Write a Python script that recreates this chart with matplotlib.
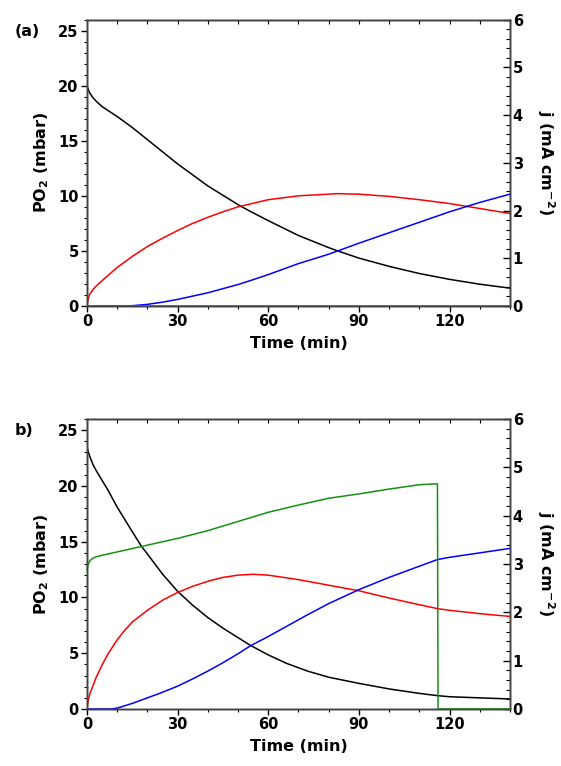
import matplotlib
matplotlib.use("Agg")
import matplotlib.pyplot as plt
from matplotlib.ticker import MultipleLocator, NullLocator

plt.rcParams['font.family'] = ['DejaVu Sans']
plt.rcParams['font.weight'] = 'bold'
plt.rcParams['mathtext.fontset'] = 'dejavusans'
plt.rcParams['mathtext.default'] = 'bf'

# ---- panel (a) : values (PO2 in mbar, j in mA cm-2) ----
t_black_a = [0, 0.5, 1, 2, 3, 5, 10, 15, 20, 30, 40, 50, 54, 60, 70, 80, 83, 90, 100, 110, 120, 130, 140]
po2_black_a = [20.0, 19.6, 19.3, 18.9, 18.6, 18.1, 17.2, 16.2, 15.1, 12.9, 10.9, 9.2, 8.6, 7.75,
               6.4, 5.3, 5.0, 4.35, 3.6, 2.95, 2.42, 1.98, 1.62]

t_red_a = [0, 0.3, 0.7, 1, 2, 3, 5, 10, 15, 20, 25, 30, 35, 40, 45, 50, 60, 70, 83, 90, 100, 110,
           120, 130, 140]
po2_red_a = [0.0, 0.5, 0.9, 1.1, 1.5, 1.8, 2.3, 3.5, 4.5, 5.4, 6.15, 6.85, 7.5, 8.05, 8.55, 9.0,
             9.65, 10.0, 10.2, 10.15, 9.95, 9.65, 9.3, 8.85, 8.4]

t_blue_a = [0, 13, 16, 20, 25, 30, 35, 40, 50, 54, 60, 70, 80, 83, 90, 100, 110, 120, 130, 140]
po2_blue_a = [0.0, 0.0, 0.05, 0.15, 0.35, 0.6, 0.9, 1.2, 1.95, 2.3, 2.85, 3.85, 4.7, 5.0, 5.7,
              6.65, 7.6, 8.55, 9.4, 10.15]

t_green_a = [0, 140]
j_green_a = [0.0, 0.0]

# ---- panel (b) ----
t_black_b = [0, 0.5, 1, 2, 3, 5, 7, 10, 15, 18, 20, 25, 30, 35, 40, 45, 50, 54, 60, 66, 73, 80, 90,
             100, 110, 116, 120, 130, 140]
po2_black_b = [23.5, 23.0, 22.6, 21.9, 21.4, 20.5, 19.6, 18.1, 15.9, 14.6, 13.9, 12.1, 10.55, 9.3,
               8.2, 7.25, 6.4, 5.72, 4.85, 4.1, 3.4, 2.85, 2.3, 1.8, 1.4, 1.2, 1.1, 1.0, 0.9]

t_red_b = [0, 0.3, 0.7, 1, 2, 3, 5, 7, 10, 12, 15, 20, 25, 30, 35, 40, 45, 50, 55, 60, 70, 80, 90,
           100, 110, 116, 120, 130, 140]
po2_red_b = [0.0, 0.6, 1.1, 1.4, 2.1, 2.8, 3.95, 4.95, 6.2, 6.9, 7.8, 8.85, 9.75, 10.45, 11.0, 11.45,
             11.8, 12.0, 12.08, 12.0, 11.6, 11.1, 10.6, 9.95, 9.35, 9.0, 8.85, 8.55, 8.3]

t_blue_b = [0, 8, 10, 12, 15, 20, 25, 30, 35, 40, 45, 50, 54, 60, 66, 73, 80, 90, 100, 110, 116,
            120, 130, 140]
po2_blue_b = [0.0, 0.0, 0.08, 0.25, 0.5, 1.0, 1.5, 2.05, 2.7, 3.4, 4.15, 4.95, 5.65, 6.5, 7.4, 8.45,
              9.45, 10.7, 11.8, 12.8, 13.4, 13.6, 14.0, 14.4]

t_green_b = [0, 0.3, 0.7, 1, 2, 3, 5, 10, 20, 30, 40, 50, 60, 66, 70, 80, 90, 100, 110, 116, 116.2, 140]
j_green_b = [2.88, 2.97, 3.03, 3.07, 3.12, 3.15, 3.18, 3.25, 3.39, 3.53, 3.69, 3.88, 4.07, 4.16,
             4.22, 4.36, 4.45, 4.55, 4.64, 4.66, 0.0, 0.0]

x_ticks = [0, 30, 60, 90, 120]
left_ticks = [0, 5, 10, 15, 20, 25]
right_ticks = [0, 1, 2, 3, 4, 5, 6]

BLACK, RED, BLUE, GREEN = 'black', '#ff0000', '#0000ff', '#159015'
FS_TICK = 10.5
FS_LAB = 11.5
SPINE = '#444444'


def draw_panel(ax, series, green, tag, ylab):
    axr = ax.twinx()
    for t, y, c in series:
        ax.plot(t, y, color=c, lw=1.1, zorder=3)
    axr.plot(green[0], green[1], color=GREEN, lw=1.1, zorder=3, clip_on=False)

    ax.set_xlim(0, 140)
    ax.set_ylim(0, 26)
    axr.set_ylim(0, 6)

    ax.set_xticks(x_ticks)
    ax.xaxis.set_minor_locator(MultipleLocator(10))
    ax.set_yticks(left_ticks)
    ax.yaxis.set_minor_locator(MultipleLocator(1))
    axr.set_yticks(right_ticks)
    axr.yaxis.set_minor_locator(MultipleLocator(0.2))

    ax.tick_params(axis='x', which='major', direction='out', length=4, width=1, top=False)
    ax.tick_params(axis='x', which='minor', direction='out', length=2.5, width=0.8, top=False)
    ax.tick_params(axis='y', which='major', direction='out', length=4, width=1, right=False)
    ax.tick_params(axis='y', which='minor', direction='out', length=2.5, width=0.8, right=False)
    axr.tick_params(axis='y', which='major', direction='in', length=5, width=1)
    axr.tick_params(axis='y', which='minor', direction='in', length=3, width=0.8)

    # inward ticks along the top edge, every 10 min
    axt = ax.twiny()
    axt.set_xlim(0, 140)
    axt.set_xticks(list(range(0, 141, 10)))
    axt.xaxis.set_minor_locator(NullLocator())
    axt.tick_params(axis='x', direction='in', labeltop=False, length=3, width=0.8)

    for a in (ax, axr, axt):
        a.tick_params(labelsize=FS_TICK, pad=2, colors='black')
        for s in a.spines.values():
            s.set_linewidth(1.0)
            s.set_edgecolor(SPINE)

    ax.set_xlabel('Time (min)', fontsize=FS_LAB, fontweight='bold', labelpad=5)
    ax.set_ylabel(ylab, fontsize=FS_LAB, fontweight='bold', labelpad=5)
    axr.set_ylabel('j (mA cm$^{-2}$)', fontsize=FS_LAB, fontweight='bold', rotation=270,
                   va='bottom', labelpad=9)
    ax.text(-0.172, 0.985, tag, transform=ax.transAxes, fontsize=FS_LAB, fontweight='bold',
            ha='left', va='top')
    return axr


fig = plt.figure(figsize=(5.61, 7.66), dpi=100)
ax_a = fig.add_axes([0.155, 0.6005, 0.754, 0.374])
ax_b = fig.add_axes([0.155, 0.0744, 0.754, 0.3786])

draw_panel(ax_a,
           [(t_black_a, po2_black_a, BLACK), (t_red_a, po2_red_a, RED), (t_blue_a, po2_blue_a, BLUE)],
           (t_green_a, j_green_a), '(a)', 'PO$_2$ (mbar)')
draw_panel(ax_b,
           [(t_black_b, po2_black_b, BLACK), (t_red_b, po2_red_b, RED), (t_blue_b, po2_blue_b, BLUE)],
           (t_green_b, j_green_b), 'b)', 'PO$_{2}$ (mbar)')

fig.savefig('out.png', dpi=100)
